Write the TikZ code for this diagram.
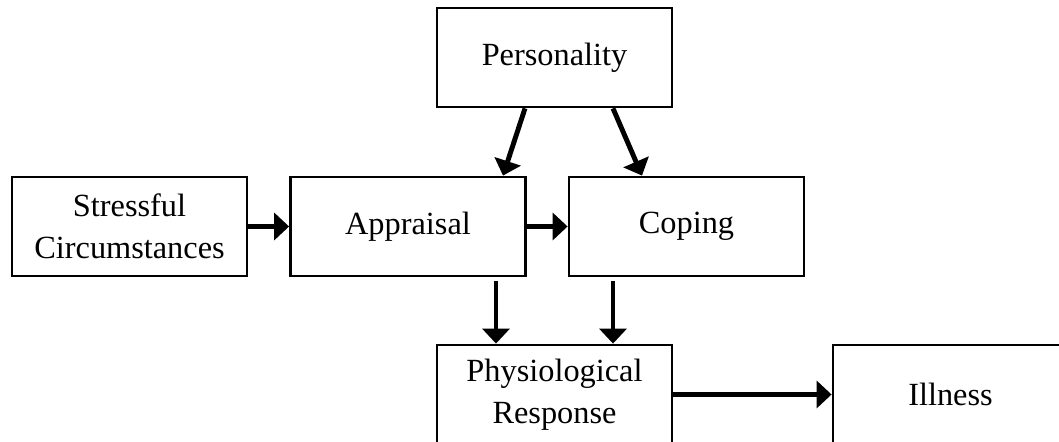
\documentclass[tikz,border=0pt]{standalone}
\usepackage{fontspec}
\setmainfont{Liberation Serif}
\usepackage{tikz}
\usetikzlibrary{arrows.meta}

\tikzset{
  stagebox/.style={draw,line width=0.8pt,minimum width=2.35cm,minimum height=0.99cm,
    align=center,inner sep=0pt,font=\fontsize{9.2}{12}\selectfont},
  arr/.style={line width=1.4pt,-{Triangle[length=1.5mm,width=2.7mm]}}
}

\begin{document}
\begin{tikzpicture}
        \useasboundingbox (0,0) rectangle (10.59,4.42);
        % boxes
        \node[stagebox] (pers) at (5.545,3.845) {Personality};
        \node[stagebox] (stress) at (1.295,2.155) {Stressful\\Circumstances};
        \node[stagebox] (appr) at (4.08,2.155) {Appraisal};
        \node[stagebox] (cope) at (6.865,2.155) {Coping};
        \node[stagebox] (phys) at (5.545,0.475) {Physiological\\Response};
        \node[stagebox] (ill) at (9.505,0.475) {Illness};
        % arrows
        \draw[arr] (stress.east) -- (appr.west);
        \draw[arr] (appr.east) -- (cope.west);
        \draw[arr] ([xshift=-0.295cm]pers.south) -- ([xshift=0.95cm]appr.north);
        \draw[arr] ([xshift=0.585cm]pers.south) -- ([xshift=-0.445cm]cope.north);
        \draw[arr] ([xshift=0.88cm,yshift=-0.04cm]appr.south) -- ([xshift=0.88cm]appr.south |- phys.north);
        \draw[arr] ([xshift=-0.735cm,yshift=-0.04cm]cope.south) -- ([xshift=-0.735cm]cope.south |- phys.north);
        \draw[arr] (phys.east) -- (ill.west);
      \end{tikzpicture}
\end{document}
